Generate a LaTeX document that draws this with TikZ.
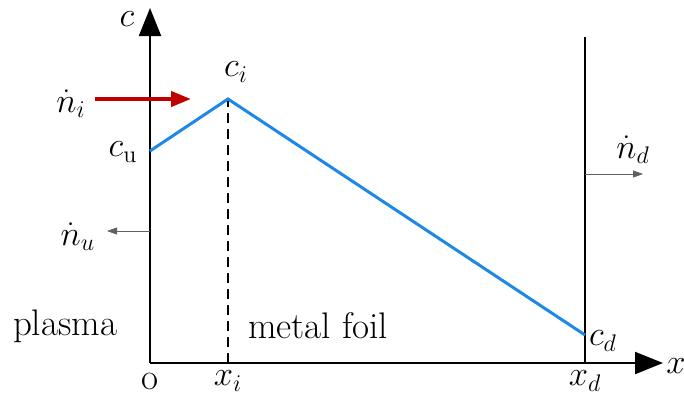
\documentclass[tikz,border=0pt]{standalone}
\usepackage{amsmath}
\usetikzlibrary{arrows.meta}
\definecolor{CurveBlue}{HTML}{1E88E5}
\definecolor{FluxRed}{HTML}{C00000}
\definecolor{FluxGray}{HTML}{606060}
\tikzset{>=Stealth,every node/.style={font=\fontsize{18.5}{22}\selectfont,inner sep=0pt},
 axis/.style={line width=1pt,-{Triangle[length=14pt,width=11pt]}},
 profile/.style={CurveBlue,line width=1.5pt,line join=miter},
 influx/.style={FluxRed,line width=2pt,-{Triangle[length=10pt,width=7.5pt]}},
 outflux/.style={FluxGray,line width=0.4pt,-{Triangle[length=5pt,width=3.5pt]}}}
\begin{document}
\begin{tikzpicture}[x=0.5pt,y=-0.5pt]
\useasboundingbox (0,0) rectangle (684,403);
\coordinate (O) at (150,363);
\coordinate (ytip) at (150,8);
\coordinate (xtip) at (663,363);
\coordinate (cu) at (150,151);
\coordinate (ci) at (228,99);
\coordinate (cd) at (585,335);
\coordinate (xi) at (228,363);
\coordinate (xd) at (585,363);
\coordinate (wtop) at (585,37);
\draw[axis] (O) -- (ytip);
\draw[axis] (O) -- (xtip);
\draw[line width=0.8pt] (xd) -- (wtop);
\draw[line width=0.8pt,dashed,dash pattern=on 5pt off 3pt] (xi) -- (ci);
\draw[profile] (cu) -- (ci) -- (cd);
% fluxes
\coordinate (ni0) at (95,99);
\coordinate (ni1) at (191,99);
\draw[influx] (ni0) -- (ni1);
\coordinate (nu0) at (150,231);
\coordinate (nu1) at (107,231);
\draw[outflux] (nu0) -- (nu1);
\coordinate (nd0) at (585,174);
\coordinate (nd1) at (643,174);
\draw[outflux] (nd0) -- (nd1);
% labels
\node (clab) at (127,19) {$c$};
\node (xlab) at (676,366) {$x$};
\node (cilab) at (236,72) {$c_i$};
\node (culab) at (123,152) {$c_{\mathrm{u}}$};
\node (cdlab) at (603,341) {$c_d$};
\node (nilab) at (71,104) {$\dot{n}_i$};
\node (nulab) at (78,237) {$\dot{n}_u$};
\node (ndlab) at (633,150) {$\dot{n}_d$};
\node (plasma) at (65,326) {plasma};
\node (foil) at (318,326) {metal foil};
\node (olab) at (150,381) {o};
\node (xilab) at (228,381) {$x_i$};
\node (xdlab) at (585,381) {$x_d$};
\end{tikzpicture}
\end{document}
